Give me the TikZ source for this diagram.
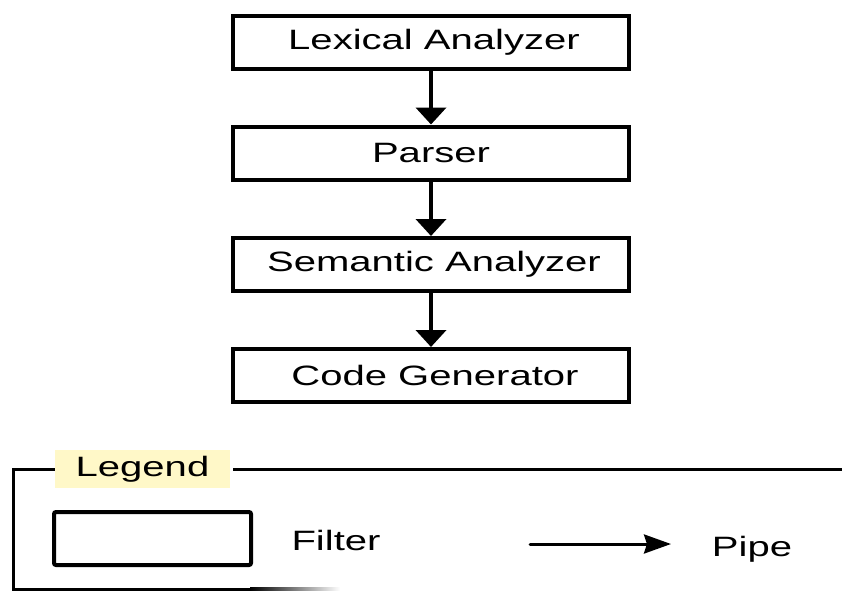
\documentclass[tikz,border=0pt]{standalone}
\usepackage{fontspec}
\setmainfont{Liberation Sans}[FakeStretch=1.43]
\usetikzlibrary{arrows.meta}
\definecolor{legendbg}{RGB}{255,248,200}
\tikzset{
  filterbox/.style={draw=black, line width=4pt, minimum width=396pt, minimum height=53pt, inner sep=0pt, font=\fontsize{28pt}{30pt}\selectfont},
  pipearrow/.style={line width=4pt, -{Triangle[width=30pt,length=17pt]}},
  legendline/.style={line width=3pt},
  lbl/.style={inner sep=0pt, font=\fontsize{28pt}{30pt}\selectfont}
}
\begin{document}
\begin{tikzpicture}[x=1pt,y=-1pt]
\useasboundingbox (0,0) rectangle (842,592);
\node[filterbox] (lex) at (431,42) {\hspace*{6pt}Lexical Analyzer};
\node[filterbox] (par) at (431,153) {Parser};
\node[filterbox] (sem) at (431,264.5) {\hspace*{6pt}Semantic Analyzer};
\node[filterbox] (gen) at (431,375.5) {\hspace*{8pt}Code Generator};
\draw[pipearrow] (lex) -- (par);
\draw[pipearrow] (par) -- (sem);
\draw[pipearrow] (sem) -- (gen);
% legend
\node[lbl, fill=legendbg, minimum width=175pt, minimum height=38pt] (legend) at (142.5,469) {Legend};
\coordinate (tl) at (13,469);
\coordinate (bl) at (13,589);
\coordinate (be) at (250,589);
\coordinate (tr) at (842,469);
\draw[legendline] (legend.west) -- (tl) -- (bl) -- (be);
\shade[left color=black, right color=white] (250,587.5) rectangle (340,590.5);
\draw[legendline] (legend.east) ++(3,0) -- (tr);
\node[draw=black, line width=4pt, rounded corners=2pt, minimum width=197pt, minimum height=53pt, inner sep=0pt] (filt) at (152.5,538.5) {};
\node[lbl] (filtlbl) at (336,540) {Filter};
\coordinate (ps) at (530,544);
\coordinate (pe) at (671,544);
\draw[line width=3pt, line cap=round, -{Stealth[width=19pt,length=27pt,inset=3pt]}] (ps) -- (pe);
\node[lbl, anchor=base] (pipelbl) at (752,556) {Pipe};
\end{tikzpicture}
\end{document}
